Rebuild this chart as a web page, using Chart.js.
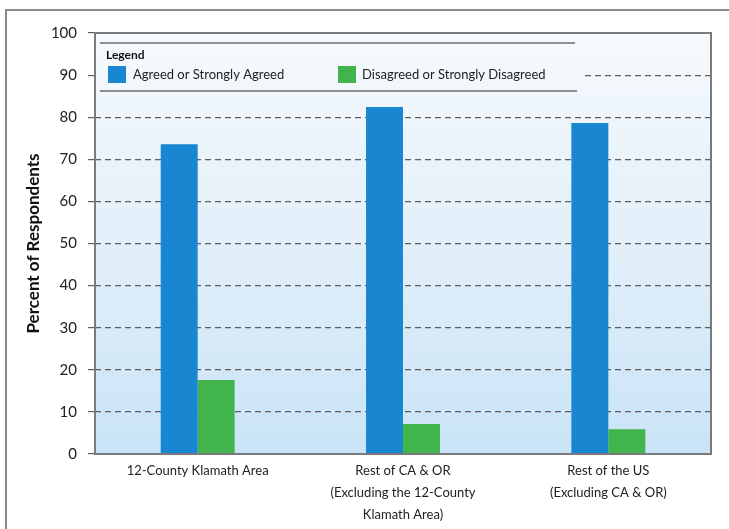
<!DOCTYPE html>
<html>
<head>
<meta charset="utf-8">
<script src="https://cdn.jsdelivr.net/npm/chart.js@4"></script>
<style>
  html, body { margin: 0; padding: 0; background: #fff; }
  #wrap { width: 729px; height: 529px; }
</style>
</head>
<body>
<div id="wrap"><canvas id="chart" width="729" height="529"></canvas></div>
<script>
// Data
const categories = [
    '12-County Klamath Area',
    ['Rest of CA & OR', '(Excluding the 12-County', 'Klamath Area)'],
    ['Rest of the US', '(Excluding CA & OR)'],
];
const agreed = [73.6, 82.4, 78.6];
const disagreed = [17.6, 7.1, 5.9];
const seriesNames = ['Agreed or Strongly Agreed', 'Disagreed or Strongly Disagreed'];
const yTickValues = [0, 10, 20, 30, 40, 50, 60, 70, 80, 90, 100];

const BLUE = '#1886d0';
const GREEN = '#41b54b';
const FONT = 'Lato, "Open Sans", sans-serif';

let bgGradient = null;
function getGradient(ctx, area) {
    if (!bgGradient) {
        bgGradient = ctx.createLinearGradient(0, area.top, 0, area.bottom);
        bgGradient.addColorStop(0, '#f6fafd');
        bgGradient.addColorStop(0.5, '#e2eff9');
        bgGradient.addColorStop(1, '#c9e4f7');
    }
    return bgGradient;
}

// frame, plot background, legend, plot border
const framePlugin = {
    id: 'framePlugin',
    beforeDraw(chart) {
        const { ctx, chartArea: a } = chart;
        ctx.save();
        ctx.fillStyle = '#fff';
        ctx.fillRect(0, 0, chart.width, chart.height);
        ctx.strokeStyle = '#8a8a8a';
        ctx.lineWidth = 2;
        ctx.beginPath();
        ctx.moveTo(6, chart.height);
        ctx.lineTo(6, 10);
        ctx.lineTo(chart.width, 10);
        ctx.stroke();
        ctx.fillStyle = getGradient(ctx, a);
        ctx.fillRect(a.left, a.top, a.right - a.left, a.bottom - a.top);
        ctx.restore();
    },
    afterDatasetsDraw(chart) {
        const { ctx, chartArea: a } = chart;
        ctx.save();
        // legend box, covers the grid behind it
        ctx.fillStyle = getGradient(ctx, a);
        ctx.fillRect(a.left + 1, a.top + 1, 580 - a.left, 60);
        ctx.strokeStyle = '#6e6e6e';
        ctx.lineWidth = 1.5;
        ctx.beginPath();
        ctx.moveTo(100, 43); ctx.lineTo(575, 43);
        ctx.moveTo(100, 91); ctx.lineTo(577, 91);
        ctx.stroke();
        ctx.fillStyle = '#111';
        ctx.font = 'bold 12px ' + FONT;
        ctx.textBaseline = 'middle';
        ctx.fillText('Legend', 106, 55);
        ctx.fillStyle = BLUE;
        ctx.fillRect(108, 66, 18, 17);
        ctx.fillStyle = GREEN;
        ctx.fillRect(338, 66, 18, 17);
        ctx.fillStyle = '#222';
        ctx.font = '13px ' + FONT;
        ctx.fillText(seriesNames[0], 133, 75);
        ctx.fillText(seriesNames[1], 362, 75);
        // plot border
        ctx.strokeStyle = '#7a7a7a';
        ctx.lineWidth = 2;
        ctx.strokeRect(a.left, a.top, a.right - a.left, a.bottom - a.top);
        ctx.restore();
    }
};

const ctx = document.getElementById('chart').getContext('2d');

new Chart(ctx, {
    type: 'bar',
    data: {
        labels: categories,
        datasets: [
            { label: seriesNames[0], data: agreed, backgroundColor: BLUE },
            { label: seriesNames[1], data: disagreed, backgroundColor: GREEN },
        ],
    },
    options: {
        responsive: false,
        animation: false,
        layout: { padding: { left: 19, top: 33, right: 18, bottom: 0 } },
        plugins: {
            legend: { display: false },
            tooltip: { enabled: false },
        },
        datasets: {
            bar: { categoryPercentage: 0.36, barPercentage: 1.0 },
        },
        scales: {
            x: {
                grid: { display: false, drawTicks: false },
                border: { display: false },
                ticks: {
                    color: '#222',
                    font: { family: FONT, size: 13, lineHeight: '22px' },
                    padding: 6,
                    maxRotation: 0,
                    autoSkip: false,
                },
                afterFit(scale) { scale.height = 75; },
            },
            y: {
                min: 0,
                max: 100,
                afterBuildTicks(scale) {
                    scale.ticks = yTickValues.map(v => ({ value: v }));
                },
                grid: {
                    color: '#5e5e5e',
                    lineWidth: 1.2,
                    tickLength: 7,
                    drawTicks: true,
                },
                border: { display: false, dash: [6, 4] },
                ticks: {
                    color: '#222',
                    font: { family: FONT, size: 15 },
                    padding: 11,
                },
                title: {
                    display: true,
                    text: 'Percent of Respondents',
                    color: '#111',
                    font: { family: FONT, size: 17, weight: 'bold' },
                    padding: { top: 4, bottom: 4 },
                },
                afterFit(scale) { scale.width = 76; },
            },
        },
    },
    plugins: [framePlugin],
});
</script>
</body>
</html>
